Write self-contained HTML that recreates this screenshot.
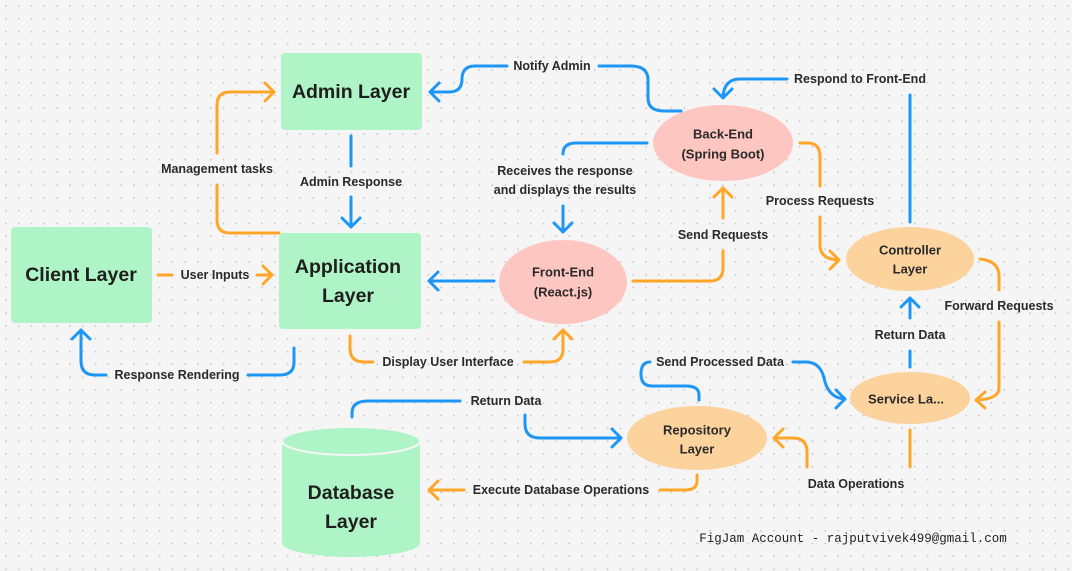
<!DOCTYPE html>
<html><head><meta charset="utf-8"><style>
html,body{margin:0;padding:0;background:#f5f5f5;}
svg{display:block}
text{font-family:"Liberation Sans",sans-serif;font-weight:bold;fill:#2a2a2a;text-anchor:middle;dominant-baseline:central}
.l{font-size:12.5px}
.n{font-size:13px}
.b{font-size:19.5px;fill:#1e1e1e}
.bl{fill:none;stroke:#1e96f6;stroke-width:3;stroke-linecap:round;stroke-linejoin:round}
.or{fill:none;stroke:#ffa629;stroke-width:3;stroke-linecap:round;stroke-linejoin:round}
</style></head><body>
<svg width="1072" height="571" viewBox="0 0 1072 571" xmlns="http://www.w3.org/2000/svg">
<defs><pattern id="d" width="12.8" height="12.8" patternUnits="userSpaceOnUse"><circle cx="6" cy="6" r="0.9" fill="#c6c6c6"/></pattern></defs>
<rect width="1072" height="571" fill="#f5f5f5"/>
<rect width="1072" height="571" fill="url(#d)"/>

<!-- nodes -->
<rect x="281" y="53" width="141" height="77" rx="4" fill="#aff4c6"/>
<text class="b" x="351" y="92">Admin Layer</text>
<rect x="11" y="227" width="141" height="96" rx="4" fill="#aff4c6"/>
<text class="b" x="81" y="275">Client Layer</text>
<rect x="279" y="233" width="142" height="96" rx="4" fill="#aff4c6"/>
<text class="b" x="348" y="267">Application</text>
<text class="b" x="348" y="296">Layer</text>

<ellipse cx="563" cy="282" rx="64" ry="42" fill="#fec6c1"/>
<text class="n" x="563" y="272">Front-End</text>
<text class="n" x="563" y="292">(React.js)</text>
<ellipse cx="723" cy="143" rx="70" ry="38" fill="#fec6c1"/>
<text class="n" x="723" y="134">Back-End</text>
<text class="n" x="723" y="154">(Spring Boot)</text>
<ellipse cx="910" cy="259" rx="64" ry="32" fill="#fcd29d"/>
<text class="n" x="910" y="250">Controller</text>
<text class="n" x="910" y="269">Layer</text>
<ellipse cx="910" cy="398" rx="60" ry="26" fill="#fcd29d"/>
<text class="n" x="906" y="399">Service La...</text>
<ellipse cx="697" cy="438" rx="70" ry="32" fill="#fcd29d"/>
<text class="n" x="697" y="430">Repository</text>
<text class="n" x="697" y="449">Layer</text>

<!-- database cylinder -->
<path d="M282,441 L282,543 A69,14 0 0 0 420,543 L420,441 Z" fill="#aff4c6"/>
<ellipse cx="351" cy="441" rx="69" ry="14" fill="#aff4c6" stroke="#f5f5f5" stroke-width="2"/>
<text class="b" x="351" y="493">Database</text>
<text class="b" x="351" y="522">Layer</text>

<!-- Notify Admin -->
<path class="bl" d="M681,111 L664,111 Q648,111 648,98 L648,80 Q648,66 631,66 L599,66"/>
<text class="l" x="552" y="66">Notify Admin</text>
<path class="bl" d="M507,66 L475,66 Q462,66 462,79 Q462,92 449,92 L430,92 M439,83 L430,92 L439,101"/>

<!-- Admin Response -->
<path class="bl" d="M351,136 L351,166 M351,197 L351,227 M342,218 L351,227 L360,218"/>
<text class="l" x="351" y="182">Admin Response</text>

<!-- Management tasks -->
<path class="or" d="M217,153 L217,105 Q217,92 230,92 L274,92 M265,83 L274,92 L265,101"/>
<path class="or" d="M217,185 L217,220 Q217,233 230,233 L279,233"/>
<text class="l" x="217" y="169">Management tasks</text>

<!-- User Inputs -->
<path class="or" d="M158,275 L172,275 M257,275 L272,275 M263,266 L272,275 L263,284"/>
<text class="l" x="215" y="275">User Inputs</text>

<!-- Response Rendering -->
<path class="bl" d="M294,348 L294,362 Q294,375 280,375 L248,375"/>
<path class="bl" d="M106,375 L95,375 Q81,375 81,361 L81,330 M72,339 L81,330 L90,339"/>
<text class="l" x="177" y="375">Response Rendering</text>

<!-- Display UI -->
<path class="or" d="M350,336 L350,348 Q350,362 364,362 L373,362"/>
<path class="or" d="M524,362 L550,362 Q563,362 563,349 L563,330 M554,339 L563,330 L572,339"/>
<text class="l" x="448" y="362">Display User Interface</text>

<!-- Front -> App -->
<path class="bl" d="M494,281 L429,281 M438,272 L429,281 L438,290"/>

<!-- Send Requests -->
<path class="or" d="M633,281 L710,281 Q723,281 723,268 L723,251 M723,218 L723,188 M714,197 L723,188 L732,197"/>
<text class="l" x="723" y="235">Send Requests</text>

<!-- Receives -->
<path class="bl" d="M647,143 L576,143 Q563,143 563,154 M563,206 L563,232 M554,223 L563,232 L572,223"/>
<text class="l" x="565" y="171">Receives the response</text>
<text class="l" x="565" y="190">and displays the results</text>

<!-- Respond to Front-End -->
<path class="bl" d="M910,222 L910,95"/>
<path class="bl" d="M787,79 L740,79 Q724,79 723,97 M714,89 L723,98 L732,89"/>
<text class="l" x="860" y="79">Respond to Front-End</text>

<!-- Process Requests -->
<path class="or" d="M800,143 L808,143 Q820,143 820,157 L820,186 M820,217 L820,245 Q820,259 838,260 M830,251 L839,260 L830,269"/>
<text class="l" x="820" y="201">Process Requests</text>

<!-- Forward Requests -->
<path class="or" d="M980,259 Q999,261 999,276 L999,290 M999,322 L999,388 Q999,399 977,400 M985,392 L976,400 L985,408"/>
<text class="l" x="999" y="306">Forward Requests</text>

<!-- Return Data service -> controller -->
<path class="bl" d="M910,367 L910,351 M910,318 L910,298 M901,307 L910,298 L919,307"/>
<text class="l" x="910" y="335">Return Data</text>

<!-- Data Operations -->
<path class="or" d="M910,430 L910,467"/>
<path class="or" d="M807,467 L807,452 Q807,438 793,438 L774,438 M783,429 L774,438 L783,447"/>
<text class="l" x="856" y="484">Data Operations</text>

<!-- Send Processed Data -->
<path class="bl" d="M699,400 L699,395 Q699,386 686,386 L652,386 Q641,386 641,374 Q641,362 650,362"/>
<path class="bl" d="M793,362 L806,362 Q820,362 824,378 Q828,398 845,399 M836,390 L845,399 L836,408"/>
<text class="l" x="720" y="362">Send Processed Data</text>

<!-- Return Data db -> repo -->
<path class="bl" d="M352,417 L352,413 Q352,401 368,401 L460,401"/>
<path class="bl" d="M525,415 L525,424 Q525,438 540,438 L621,438 M612,429 L621,438 L612,447"/>
<text class="l" x="506" y="401">Return Data</text>

<!-- Execute DB Ops -->
<path class="or" d="M697,475 L697,481 Q697,490 685,490 L660,490 M464,490 L429,490 M438,481 L429,490 L438,499"/>
<text class="l" x="561" y="490">Execute Database Operations</text>

<text x="853" y="539" style="font-family:'Liberation Mono',monospace;font-weight:normal;font-size:12.5px;fill:#1e1e1e">FigJam Account - rajputvivek499@gmail.com</text>
</svg>
</body></html>
